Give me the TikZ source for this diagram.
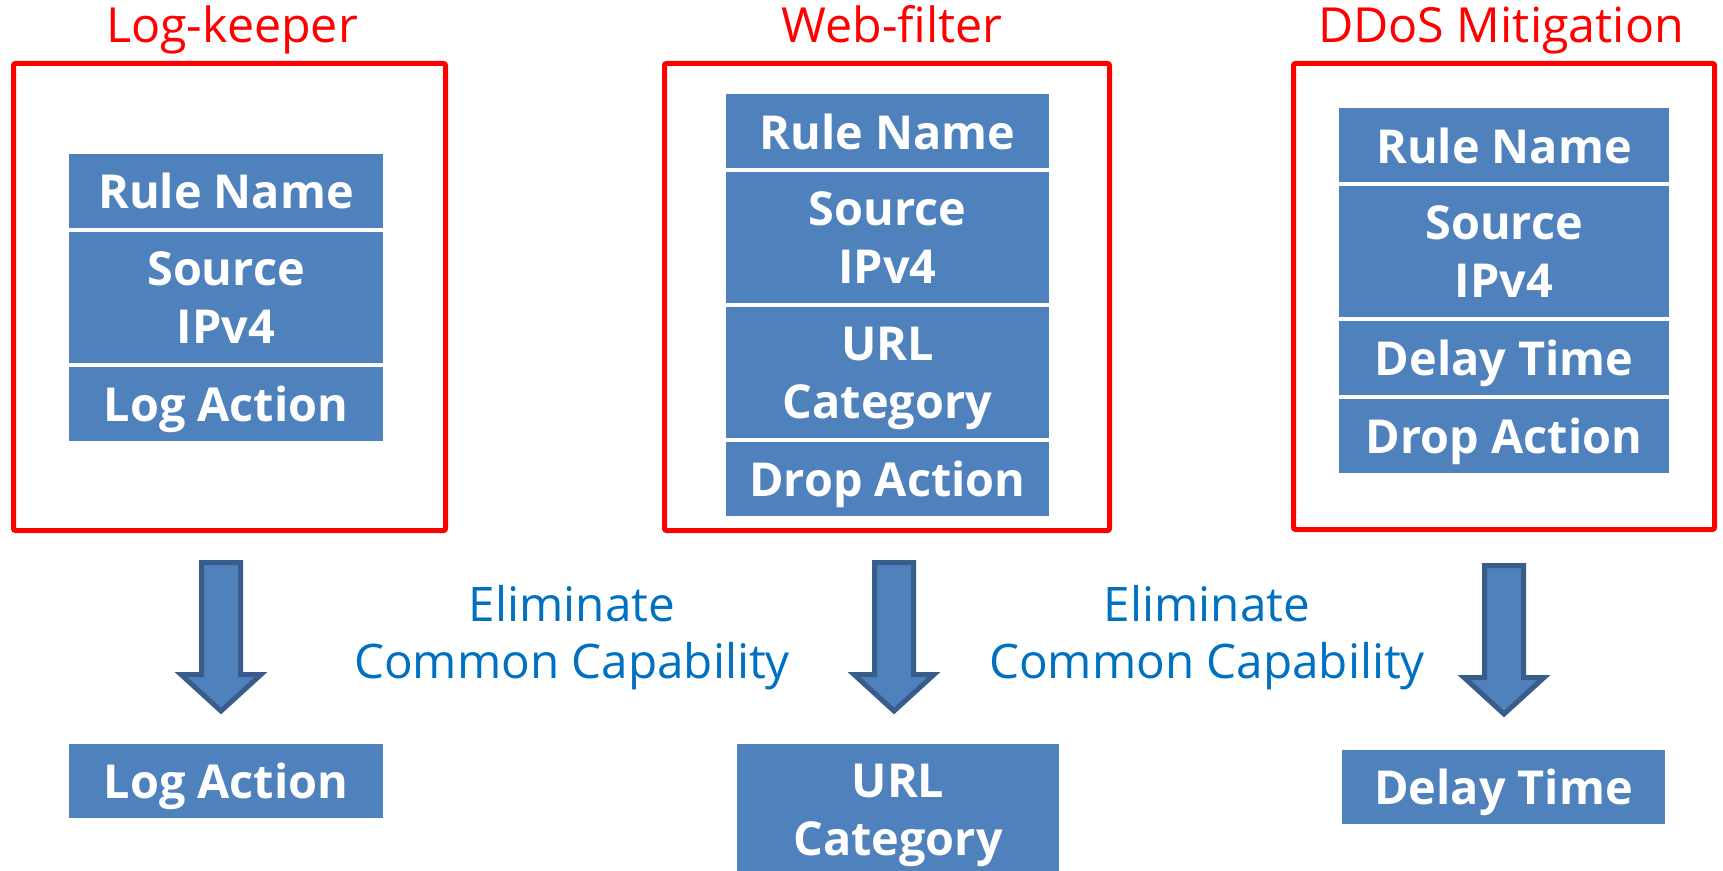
\documentclass[tikz,border=0pt]{standalone}
\usepackage{fontspec}
\setmainfont{Open Sans}
\usetikzlibrary{positioning}

\definecolor{cellblue}{HTML}{4F81BD}
\definecolor{arrowedge}{HTML}{385D8A}
\definecolor{noteblue}{HTML}{0070C0}

\begin{document}
\begin{tikzpicture}[x=0.5pt,y=-0.5pt,
	redbox/.style={draw=red,line width=2.5pt,rounded corners=1pt,inner sep=0pt},
	boxtitle/.style={text=red,font=\fontsize{24.2}{29}\selectfont,anchor=base,inner sep=0pt},
	cell/.style={fill=cellblue,text=white,font=\bfseries\fontsize{23.4}{29}\selectfont,align=center,inner sep=0pt,text depth=0pt,minimum height=37pt,minimum width=#1},
	tall/.style={minimum height=65.5pt},
	note/.style={text=noteblue,font=\fontsize{23.8}{28.5}\selectfont,align=center,inner sep=0pt},
	blockarrow/.style={fill=cellblue,draw=arrowedge,line width=2.5pt,miter limit=10}]
	\clip (0,0) rectangle (1723,871);
	
	% the three functions
	\node[redbox,minimum width=216pt,minimum height=233.5pt] (lk)at(229.5,297) {};
	\node[redbox,minimum width=222.5pt,minimum height=233.5pt] (wf)at(887,297) {};
	\node[redbox,minimum width=210.5pt,minimum height=233pt] (dm)at(1504,296.5) {};
	\node[boxtitle] (lktitle)at(232,43) {Log-keeper};
	\node[boxtitle] (wftitle)at(892,43) {Web-filter};
	\node[boxtitle] (dmtitle)at(1501,43) {DDoS Mitigation};
	
	% Log-keeper
	\node[cell=157pt] (lkname)at(226,191) {Rule Name};
	\node[cell=157pt,tall,below=1.5pt of lkname] (lksrc) {Source\\IPv4};
	\node[cell=157pt,below=1.5pt of lksrc] (lkact) {Log Action};
	
	% Web-filter
	\node[cell=161.5pt] (wfname)at(887.5,131.5) {Rule Name};
	\node[cell=161.5pt,tall,below=1.5pt of wfname] (wfsrc) {Source\\IPv4};
	\node[cell=161.5pt,tall,below=1.5pt of wfsrc] (wfurl) {URL\\Category};
	\node[cell=161.5pt,below=1.5pt of wfurl] (wfact) {Drop Action};
	
	% DDoS Mitigation
	\node[cell=165pt] (dmname)at(1504,145.5) {Rule Name};
	\node[cell=165pt,tall,below=1.5pt of dmname] (dmsrc) {Source\\IPv4};
	\node[cell=165pt,below=1.5pt of dmsrc] (dmdelay) {Delay Time};
	\node[cell=165pt,below=1.5pt of dmdelay] (dmact) {Drop Action};
	
	% what is left
	\node[cell=157pt] (lkleft)at(226,780.5) {Log Action};
	\node[cell=161pt,tall] (wfleft)at(898,809.5) {URL\\Category};
	\node[cell=161.5pt] (dmleft)at(1503.5,787) {Delay Time};
	
	\node[note] (elim1)at(572,638) {Eliminate\\Common Capability};
	\node[note] (elim2)at(1207,638) {Eliminate\\Common Capability};
	
	\coordinate (lkarrow)at(201.5,562.5);
	\coordinate (wfarrow)at(874.5,562.5);
	\coordinate (dmarrow)at(1484.5,565.5);
	\draw[blockarrow] (lkarrow) -- ++(39,0) -- ++(0,112) -- ++(20.5,0) -- ++(-40,36.5) -- ++(-40,-36.5) -- ++(20.5,0) -- cycle;
	\draw[blockarrow] (wfarrow) -- ++(39,0) -- ++(0,112) -- ++(20.5,0) -- ++(-40,36.5) -- ++(-40,-36.5) -- ++(20.5,0) -- cycle;
	\draw[blockarrow] (dmarrow) -- ++(39,0) -- ++(0,112) -- ++(20.5,0) -- ++(-40,36.5) -- ++(-40,-36.5) -- ++(20.5,0) -- cycle;
\end{tikzpicture}
\end{document}
